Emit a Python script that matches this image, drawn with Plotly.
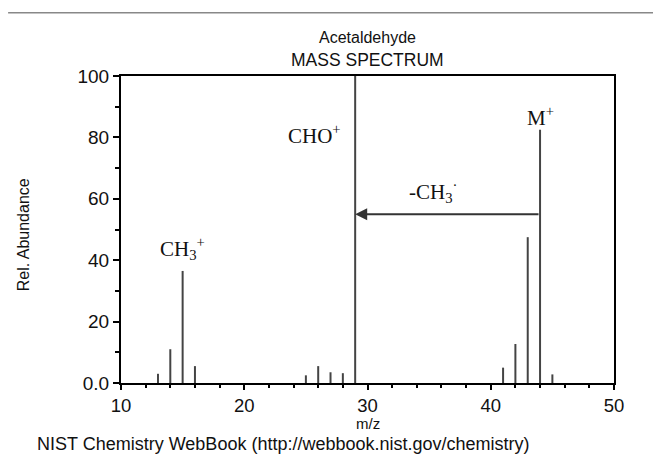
import plotly.graph_objects as go

# Data
mz = [13, 14, 15, 16, 25, 26, 27, 28, 29, 41, 42, 43, 44, 45]
abundance = [3, 11, 36.5, 5.5, 2.5, 5.5, 3.5, 3.2, 100, 5, 12.7, 47.5, 82.5, 2.8]

y_tickvals = [0, 20, 40, 60, 80, 100]
y_ticktext = ["0.0", "20", "40", "60", "80", "100"]
x_tickvals = [10, 20, 30, 40, 50]

title_line1 = "Acetaldehyde"
title_line2 = "MASS SPECTRUM"
x_title = "m/z"
y_title = "Rel. Abundance"
footer = "NIST Chemistry WebBook (http://webbook.nist.gov/chemistry)"

# build stick lines
xs, ys = [], []
for m, a in zip(mz, abundance):
    xs += [m, m, None]
    ys += [0, a, None]

fig = go.Figure()
fig.add_trace(go.Scatter(x=xs, y=ys, mode="lines",
                         line=dict(color="#444444", width=2),
                         hoverinfo="skip", showlegend=False))

serif = dict(family="Liberation Serif, Times New Roman, serif", size=21, color="#111111")
sans = "Liberation Sans, Arial, sans-serif"

annotations = [
    dict(x=15, y=37, xref="x", yref="y", text="CH<sub>3</sub><sup>+</sup>",
         showarrow=False, yanchor="bottom", yshift=4, font=serif),
    dict(x=29, y=81, xref="x", yref="y", text="CHO<sup>+</sup>",
         showarrow=False, xanchor="right", xshift=-12, yanchor="middle", font=serif),
    dict(x=44, y=83, xref="x", yref="y", text="M<sup>+</sup>",
         showarrow=False, yanchor="bottom", yshift=-4, font=serif),
    dict(x=35.3, y=55, xref="x", yref="y", text="-CH<sub>3</sub><sup>·</sup>",
         showarrow=False, yanchor="bottom", yshift=6, font=serif),
    # arrow from M+ to CHO+
    dict(x=29, y=55, ax=44, ay=55, xref="x", yref="y", axref="x", ayref="y",
         text="", showarrow=True, arrowhead=2, arrowsize=1.2, arrowwidth=2,
         arrowcolor="#333333", standoff=0),
    dict(x=0.5, y=1.127, xref="paper", yref="paper", text=title_line1,
         showarrow=False, yanchor="middle",
         font=dict(family=sans, size=16, color="#111111")),
    dict(x=0.5, y=1.052, xref="paper", yref="paper", text=title_line2,
         showarrow=False, yanchor="middle",
         font=dict(family=sans, size=17.5, color="#111111")),
    dict(x=0.5, y=-0.131, xref="paper", yref="paper", text=x_title,
         showarrow=False, yanchor="middle",
         font=dict(family=sans, size=15, color="#111111")),
    dict(x=-0.197, y=0.484, xref="paper", yref="paper", text=y_title,
         showarrow=False, textangle=-90, xanchor="center", yanchor="middle",
         font=dict(family=sans, size=16, color="#111111")),
    dict(x=-0.1744, y=-0.199, xref="paper", yref="paper", text=footer,
         showarrow=False, xanchor="left", yanchor="middle",
         font=dict(family=sans, size=18, color="#111111")),
]

fig.update_layout(
    width=661, height=459,
    margin=dict(l=113, r=55, t=68, b=84),
    paper_bgcolor="white", plot_bgcolor="white",
    showlegend=False,
    annotations=annotations,
    shapes=[dict(type="line", xref="paper", yref="paper",
                 x0=-0.229, x1=1.2, y0=1.206, y1=1.206,
                 line=dict(color="#888888", width=1.5))],
    font=dict(family=sans, size=16, color="#111111"),
)

fig.update_xaxes(range=[10, 50], tickvals=x_tickvals,
                 showline=True, linecolor="black", linewidth=2, mirror=True,
                 ticks="outside", ticklen=5, tickwidth=2, tickcolor="black",
                 minor=dict(dtick=2, ticks="outside", ticklen=3, tickwidth=2, tickcolor="black"),
                 showgrid=False, zeroline=False,
                 tickfont=dict(size=18.5))
fig.update_yaxes(range=[0, 100], tickvals=y_tickvals, ticktext=y_ticktext,
                 showline=True, linecolor="black", linewidth=2, mirror=True,
                 ticks="outside", ticklen=6, tickwidth=2, tickcolor="black",
                 minor=dict(dtick=10, ticks="outside", ticklen=4, tickwidth=2, tickcolor="black"),
                 showgrid=False, zeroline=False,
                 tickfont=dict(size=19))

fig.write_html("out.html")
